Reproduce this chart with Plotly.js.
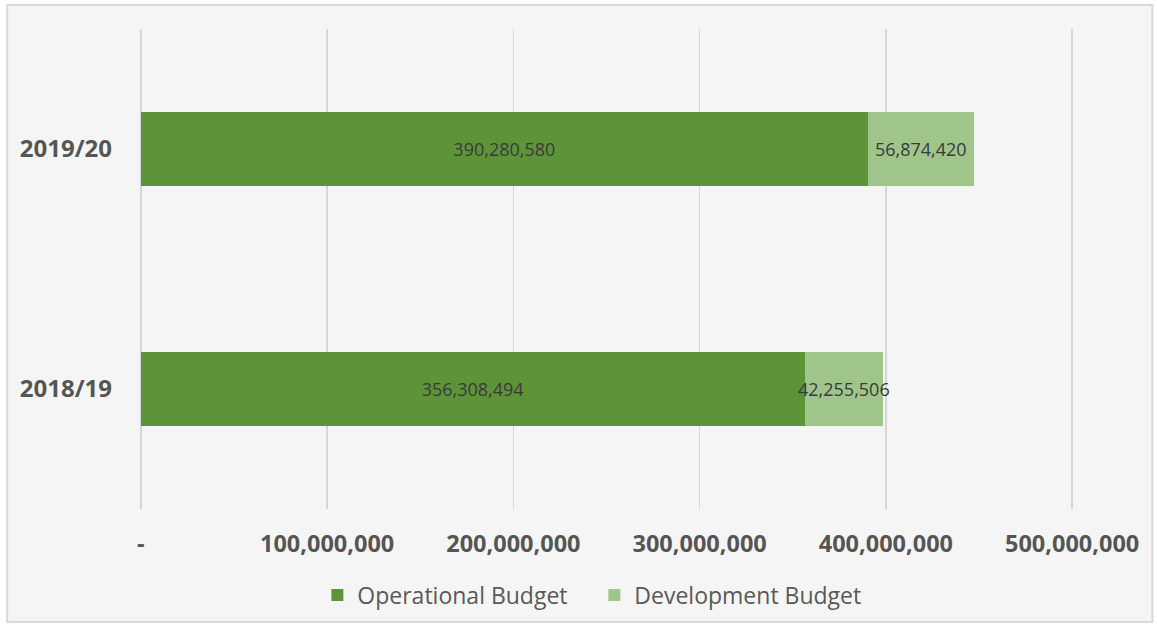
<!DOCTYPE html>
<html>
<head>
<meta charset="utf-8">
<script src="https://cdn.plot.ly/plotly-3.0.1.min.js"></script>
<style>html,body{margin:0;padding:0;background:#fff;}#chart{width:1157px;height:627px;}</style>
</head>
<body>
<div id="chart"></div>
<script>
const years = ["2018/19", "2019/20"];
const operational = [356308494, 390280580];
const development = [42255506, 56874420];
const tickValues = [0, 100000000, 200000000, 300000000, 400000000, 500000000];
const tickLabels = ["-", "100,000,000", "200,000,000", "300,000,000", "400,000,000", "500,000,000"];

const fmt = v => v.toLocaleString("en-US");

const traces = [
  {
    type: "bar", orientation: "h", name: "Operational Budget",
    y: years, x: operational,
    marker: {color: "#5e9438"},
    text: operational.map(fmt), textposition: "inside", insidetextanchor: "middle",
    constraintext: "none",
    textfont: {family: "Open Sans, sans-serif", size: 18, color: "#3a3a3a"},
    hoverinfo: "none"
  },
  {
    type: "bar", orientation: "h", name: "Development Budget",
    y: years, x: development,
    marker: {color: "#9fc58a"},
    text: development.map(fmt), textposition: "inside", insidetextanchor: "middle",
    constraintext: "none",
    textfont: {family: "Open Sans, sans-serif", size: 18, color: "#3a3a3a"},
    hoverinfo: "none"
  }
];

const layout = {
  width: 1157, height: 627,
  barmode: "stack",
  bargap: 0.69,
  paper_bgcolor: "#ffffff",
  plot_bgcolor: "rgba(0,0,0,0)",
  margin: {l: 139, r: 83, t: 29, b: 118, autoexpand: false},
  showlegend: true,
  legend: {
    orientation: "h", x: 0.487, xanchor: "center",
    yref: "container", y: 0.051, yanchor: "middle",
    font: {family: "Open Sans, sans-serif", size: 23, color: "#595959"},
    traceorder: "normal", bgcolor: "rgba(0,0,0,0)", itemwidth: 30,
    entrywidth: 232, entrywidthmode: "pixels"
  },
  xaxis: {
    range: [-1000000, 501000000],
    tickvals: tickValues, ticktext: tickLabels,
    showgrid: true, gridcolor: "#d6d6d6", gridwidth: 1.5,
    zeroline: false, showline: false, ticks: "",
    ticklabelstandoff: 18, automargin: false,
    tickfont: {family: "Open Sans, sans-serif", size: 23.5, color: "#555555", weight: "bold"},
    fixedrange: true
  },
  yaxis: {
    categoryorder: "array", categoryarray: years,
    range: [-0.5, 1.5],
    showgrid: false, zeroline: false, showline: false, ticks: "",
    ticklabelstandoff: 26, automargin: false,
    tickfont: {family: "Open Sans, sans-serif", size: 24, color: "#555555", weight: "bold"},
    fixedrange: true
  },
  shapes: [
    {
      type: "rect", xref: "paper", yref: "paper", layer: "below",
      x0: -0.141, x1: 1.0838, y0: -0.2354, y1: 1.05,
      fillcolor: "#f5f5f5", line: {color: "#d9d9d9", width: 2}
    }
  ]
};

Plotly.newPlot("chart", traces, layout, {displayModeBar: false, staticPlot: true});
</script>
</body>
</html>
